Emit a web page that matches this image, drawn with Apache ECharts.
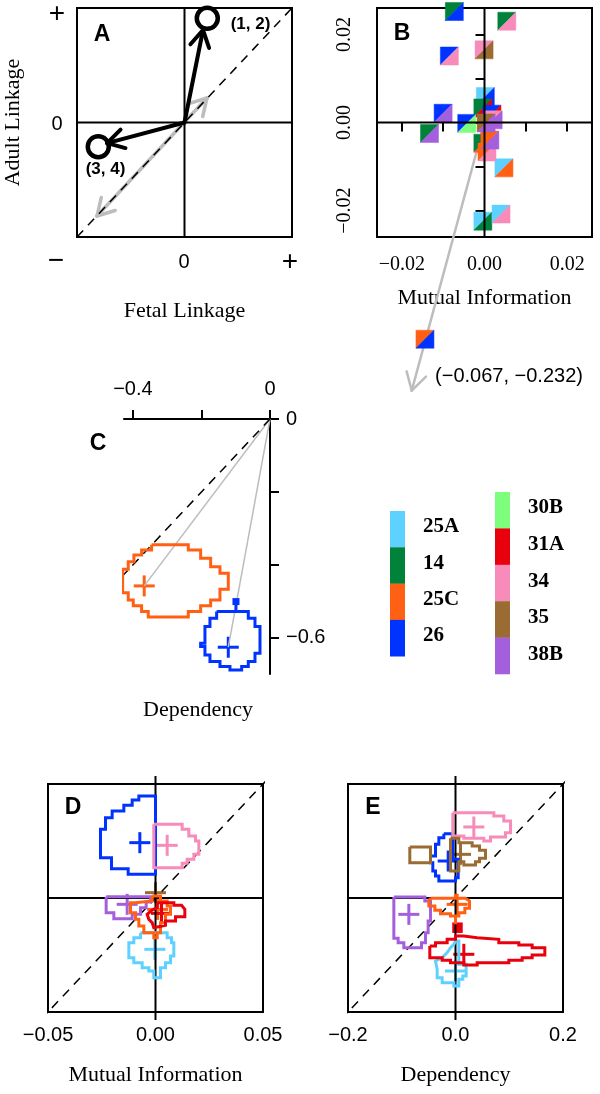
<!DOCTYPE html>
<html><head><meta charset="utf-8">
<script src="https://cdn.jsdelivr.net/npm/echarts@6/dist/echarts.min.js"></script>
<style>html,body{margin:0;padding:0;background:#fff}#c{width:600px;height:1094px}</style>
</head><body><div id="c"></div>
<script>
// ---------- shared categories ----------
const categories = ['25A','14','25C','26','30B','31A','34','35','38B'];
const catColors  = ['#5ED1FF','#00823A','#FF6014','#0033FF','#7DFF7D','#E8000C','#F78BBA','#9A6B32','#A45FDC'];

// ---------- Panel A (schematic) ----------
const aBlackArrows = [[0,0,0.172,0.808],[0,0,-0.72,-0.18]];
const aGrayArrow   = [[-0.814,-0.817,0.209,0.214]];
const aCircleX = [0.212,-0.802];
const aCircleY = [0.910,-0.211];
const aCircleLabels = ['(1, 2)','(3, 4)'];

// ---------- Panel B (split squares: upper-left / lower-right category) ----------
const bX = [-0.0073,0.0054,-0.0085,-0.0001,0.0002,-0.0100,-0.0133,0.0047,-0.0004,0.0040,-0.0004,0.0018,0.0021,-0.0043,-0.0004,0.0006,0.0013,0.0004];
const bY = [0.0252,0.0230,0.0151,0.0165,0.0059,0.0021,-0.0025,-0.0103,-0.0224,-0.0208,0.0033,0.0019,0.0006,-0.0002,-0.0047,-0.0067,-0.0040,-0.0001];
const bUpper = ['14','14','26','34','25A','26','14','25A','25A','25A','14','26','34','26','14','25C','25C','35'];
const bLower = ['26','34','34','35','26','38B','38B','25C','14','34','31A','31A','38B','30B','25C','34','38B','38B'];
const bOutlierValue = [-0.067,-0.232];
const bOutlierShown = [-0.0144,-0.0492];
const bOutlierArrowEnd = [-0.0176,-0.0609];
const bOutlierCats = ['25C','26'];
const bTicks = [-0.02,-0.01,0,0.01,0.02];
const bTickLabels = [-0.02,0,0.02];

// ---------- Panel C ----------
const cOrange = [[-0.3455,-0.345],[-0.2384,-0.345],[-0.2384,-0.359],[-0.2024,-0.359],[-0.2024,-0.382],[-0.1732,-0.382],[-0.1732,-0.405],[-0.146,-0.405],[-0.146,-0.423],[-0.1217,-0.423],[-0.1217,-0.467],[-0.146,-0.467],[-0.146,-0.496],[-0.1732,-0.496],[-0.1732,-0.512],[-0.2024,-0.512],[-0.2024,-0.528],[-0.2384,-0.528],[-0.2384,-0.543],[-0.3552,-0.543],[-0.3552,-0.528],[-0.3747,-0.528],[-0.3747,-0.512],[-0.399,-0.512],[-0.399,-0.496],[-0.4136,-0.496],[-0.4136,-0.476],[-0.430,-0.476],[-0.430,-0.412],[-0.4136,-0.412],[-0.4136,-0.391],[-0.397,-0.391],[-0.397,-0.373],[-0.3747,-0.373],[-0.3747,-0.359],[-0.3455,-0.359]];
const cBlue = [[-0.1557,-0.528],[-0.0633,-0.528],[-0.0633,-0.546],[-0.0438,-0.546],[-0.0438,-0.569],[-0.0292,-0.569],[-0.0292,-0.642],[-0.0438,-0.642],[-0.0438,-0.665],[-0.0633,-0.665],[-0.0633,-0.6785],[-0.0827,-0.6785],[-0.0827,-0.688],[-0.1168,-0.688],[-0.1168,-0.6785],[-0.146,-0.6785],[-0.146,-0.665],[-0.1752,-0.665],[-0.1752,-0.6466],[-0.1898,-0.6466],[-0.1898,-0.6237],[-0.2024,-0.6237],[-0.2024,-0.6146],[-0.1898,-0.6146],[-0.1898,-0.569],[-0.1752,-0.569],[-0.1752,-0.546],[-0.1557,-0.546]];
const cBlueStem = [[-0.0993,-0.5005],[-0.0993,-0.528]];
const cCenters = [[-0.367,-0.4575],[-0.1217,-0.6256]];
const cCenterCats = ['25C','26'];
const cXTicks = [-0.4,-0.2,0], cXLabels = [-0.4,0];
const cYTicks = [-0.6,-0.4,-0.2,0], cYLabels = [-0.6,0];

// ---------- Panel D (Mutual Information) ----------
const dBlue = [[-0.00543,0.04474],[0,0.04474],[0,0.01038],[-0.01271,0.01038],[-0.01271,0.01287],[-0.02047,0.01287],[-0.02047,0.01769],[-0.02558,0.01769],[-0.02558,0.03012],[-0.02326,0.03012],[-0.02326,0.03523],[-0.02016,0.03523],[-0.02016,0.03816],[-0.01473,0.03816],[-0.01473,0.04064],[-0.01085,0.04064],[-0.01085,0.04298],[-0.00775,0.04298],[-0.00775,0.04474]];
const dPink = [[-0.00078,0.03231],[0.0124,0.03231],[0.0124,0.03012],[0.0155,0.03012],[0.0155,0.02719],[0.0186,0.02719],[0.0186,0.025],[0.02016,0.025],[0.02016,0.01915],[0.01783,0.01915],[0.01783,0.01696],[0.01473,0.01696],[0.01473,0.01521],[0.0124,0.01521],[0.0124,0.0133],[-0.00078,0.0133]];
const dCyan = [[-0.00698,-0.01521],[0.00543,-0.01521],[0.00543,-0.0174],[0.00744,-0.0174],[0.00744,-0.01959],[0.00853,-0.01959],[0.00853,-0.02544],[0.00698,-0.02544],[0.00698,-0.02836],[0.00465,-0.02836],[0.00465,-0.03056],[0.00233,-0.03056],[0.00233,-0.03494],[-0.00078,-0.03494],[-0.00078,-0.03202],[-0.0031,-0.03202],[-0.0031,-0.03056],[-0.0062,-0.03056],[-0.0062,-0.02836],[-0.01008,-0.02836],[-0.01008,-0.02617],[-0.0124,-0.02617],[-0.0124,-0.01959],[-0.01008,-0.01959],[-0.01008,-0.0174],[-0.00698,-0.0174]];
const dPurple = [[-0.02295,0.00058],[-0.00233,0.00058],[-0.00233,-0.00175],[-0.00434,-0.00175],[-0.00434,-0.00424],[-0.00698,-0.00424],[-0.00698,-0.00716],[-0.01085,-0.00716],[-0.01085,-0.00906],[-0.01938,-0.00906],[-0.01938,-0.00643],[-0.02295,-0.00643]];
const dOrange = [[-0.00155,0.00088],[0.00233,0.00088],[0.00233,-0.00132],[0.00543,-0.00132],[0.00543,-0.00351],[0.00698,-0.00351],[0.00698,-0.00716],[0.00465,-0.00716],[0.00465,-0.01082],[0.00233,-0.01082],[0.00233,-0.01521],[0.00078,-0.01521],[0.00078,-0.0174],[-0.00078,-0.0174],[-0.00078,-0.01521],[-0.00543,-0.01521],[-0.00543,-0.01228],[-0.00775,-0.01228],[-0.00775,-0.00936],[-0.0093,-0.00936],[-0.0093,-0.00643],[-0.01163,-0.00643],[-0.01163,-0.00205],[-0.0093,-0.00205],[-0.0093,-0.00132],[-0.00155,-0.00132]];
const dRed = [[0.00078,-0.00205],[0.00853,-0.00205],[0.00853,-0.00322],[0.01209,-0.00322],[0.01364,-0.00497],[0.01364,-0.00819],[0.0093,-0.00819],[0.0093,-0.01009],[0.00465,-0.01009],[0.00465,-0.01199],[-0.00078,-0.01301],[-0.00155,-0.01082],[-0.0031,-0.00936],[-0.00388,-0.00716],[-0.00155,-0.00526],[0.00078,-0.00424]];
const dCenterX = [-0.00729,0.00543,-0.0003,-0.01318,0.001,0.00279,0];
const dCenterY = [0.02427,0.0231,-0.02251,-0.00278,-0.005,-0.00673,0.00234];
const dCenterCats = ['26','34','25A','38B','25C','31A','35'];
const dTickLabels = [-0.05,0,0.05];

// ---------- Panel E (Dependency) ----------
const eBlue = [[-0.0217,0.1129],[-0.005,0.1129],[-0.005,0.0678],[0.005,0.0678],[0.005,0.0357],[0,0.0357],[0,0.0298],[-0.031,0.0298],[-0.031,0.0386],[-0.0372,0.0386],[-0.0372,0.0474],[-0.0422,0.0474],[-0.0422,0.062],[-0.0465,0.062],[-0.0465,0.0737],[-0.0372,0.0737],[-0.0372,0.0942],[-0.031,0.0942],[-0.031,0.1058],[-0.0217,0.1058]];
const ePink = [[-0.005,0.1497],[0.0713,0.1497],[0.0713,0.1439],[0.0899,0.1439],[0.0899,0.1351],[0.1023,0.1351],[0.1023,0.1146],[0.093,0.1146],[0.093,0.107],[0.0651,0.107],[0.0651,0.1],[0.0527,0.1],[0.0527,0.1047],[0.0155,0.1047],[0.0155,0.1088],[-0.005,0.1088]];
const eBrown = [[-0.0093,0.1047],[0.0062,0.1047],[0.0062,0.0971],[0.031,0.0971],[0.031,0.0912],[0.0447,0.0912],[0.0447,0.0836],[0.0558,0.0836],[0.0558,0.0696],[0.0447,0.0696],[0.0447,0.0637],[0.0372,0.0637],[0.0372,0.0579],[0.0155,0.0579],[0.0155,0.0637],[0.0062,0.0637],[0.0062,0.0474],[-0.0093,0.0474]];
const eBrownIsland = [[-0.085,0.0895],[-0.0465,0.0895],[-0.0465,0.062],[-0.085,0.062]];
const ePurple = [[-0.1147,0.0018],[-0.0571,0.0018],[-0.0571,-0.0053],[-0.0465,-0.0053],[-0.0465,-0.0404],[-0.0509,-0.0404],[-0.0509,-0.0608],[-0.0558,-0.0608],[-0.0558,-0.0784],[-0.0633,-0.0784],[-0.0633,-0.0871],[-0.0961,-0.0871],[-0.0961,-0.0784],[-0.1067,-0.0784],[-0.1067,-0.0708],[-0.1147,-0.0708]];
const eCyan = [[0,-0.0754],[0.0062,-0.0754],[0.0062,-0.1164],[0.0198,-0.1164],[0.0198,-0.1368],[0.0136,-0.1368],[0.0136,-0.1427],[0.0062,-0.1427],[0.0062,-0.1544],[-0.0031,-0.1544],[-0.0031,-0.1485],[-0.0248,-0.1485],[-0.0248,-0.1398],[-0.0341,-0.1398],[-0.0341,-0.1251],[-0.0372,-0.1105],[-0.0248,-0.1047],[-0.0155,-0.0959],[-0.0093,-0.0871],[-0.0031,-0.0813]];
const eOrange = [[-0.0465,-0.0006],[0.0186,-0.0006],[0.026,-0.0053],[0.026,-0.0181],[0.0174,-0.0181],[0.0174,-0.0257],[0.0062,-0.0257],[0.0062,-0.0316],[-0.0093,-0.0316],[-0.0093,-0.0275],[-0.0279,-0.0275],[-0.0279,-0.0216],[-0.0384,-0.0216],[-0.0384,-0.014],[-0.0496,-0.014],[-0.0496,-0.0053]];
const eOrangeStems = [[[0,0.0076],[0,-0.0006]],[[0,-0.0316],[0,-0.0462]]];
const eRed = [[-0.0478,-0.0842],[-0.0372,-0.0842],[-0.0372,-0.0784],[-0.0155,-0.0784],[-0.0155,-0.0725],[0,-0.0725],[0,-0.0667],[0.0155,-0.0667],[0.0155,-0.0696],[0.0403,-0.0696],[0.0403,-0.0725],[0.0806,-0.0725],[0.0806,-0.0784],[0.1178,-0.0784],[0.1178,-0.0825],[0.1426,-0.0825],[0.1426,-0.0871],[0.1662,-0.0871],[0.1662,-0.1],[0.1426,-0.1],[0.1426,-0.1047],[0.124,-0.1047],[0.124,-0.1094],[0.0992,-0.1094],[0.0992,-0.1135],[0.0403,-0.1135],[0.0403,-0.1175],[0.0155,-0.1175],[0.0155,-0.1135],[-0.0093,-0.1135],[-0.0093,-0.1094],[-0.0248,-0.1094],[-0.0248,-0.1047],[-0.0478,-0.1047]];
const eRedIsland = [0.0037,-0.0521];
const eCenterX = [-0.0136,0.0341,0.0093,-0.0868,0,0.0031,0.0155];
const eCenterY = [0.0649,0.1246,0.0766,-0.0287,-0.1281,-0.0111,-0.0988];
const eCenterCats = ['26','34','35','38B','25A','25C','31A'];
const eTickLabels = [-0.2,0,0.2];

// ---------- helpers ----------
const SANS = '"Liberation Sans", Arial, sans-serif';
const SERIF = '"Liberation Serif", "Times New Roman", serif';
const col = c => catColors[categories.indexOf(c)];
const minus = s => s.replace(/-/g, '\u2212');
const closeRing = pts => pts.concat([pts[0]]);

function line(gi, pts, color, width, dash) {
  return {type:'line', xAxisIndex:gi, yAxisIndex:gi, data:pts, showSymbol:false, symbol:'none',
    clip:false, silent:true, animation:false,
    lineStyle:{color:color, width:width, type:dash || 'solid', cap:'butt', join:'miter', opacity:1}};
}
function contour(gi, pts, cat) { return line(gi, closeRing(pts), col(cat), 3); }
function plusSeries(gi, xs, ys, cats) {
  return {type:'custom', xAxisIndex:gi, yAxisIndex:gi, silent:true, animation:false,
    data: xs.map((x,i)=>[x, ys[i], categories.indexOf(cats[i])]),
    renderItem:(params, api)=>{
      const p = api.coord([api.value(0), api.value(1)]);
      const c = catColors[api.value(2)], s = 10.5;
      return {type:'group', children:[
        {type:'line', shape:{x1:p[0]-s,y1:p[1],x2:p[0]+s,y2:p[1]}, style:{stroke:c,lineWidth:3}},
        {type:'line', shape:{x1:p[0],y1:p[1]-s,x2:p[0],y2:p[1]+s}, style:{stroke:c,lineWidth:3}}]};
    }};
}
function arrowSeries(gi, arr, color, width, heads, len) {
  return {type:'custom', xAxisIndex:gi, yAxisIndex:gi, silent:true, animation:false, clip:false,
    data: arr.map(a=>a.concat(heads)),
    renderItem:(params, api)=>{
      const p1 = api.coord([api.value(0), api.value(1)]);
      const p2 = api.coord([api.value(2), api.value(3)]);
      const st = {stroke:color, lineWidth:width, lineCap:'round'};
      const ch = [{type:'line', shape:{x1:p1[0],y1:p1[1],x2:p2[0],y2:p2[1]}, style:st}];
      const head = (t, o) => {
        const a = Math.atan2(o[1]-t[1], o[0]-t[0]);
        [-Math.PI/6, Math.PI/6].forEach(d => ch.push({type:'line',
          shape:{x1:t[0],y1:t[1],x2:t[0]+len*Math.cos(a+d),y2:t[1]+len*Math.sin(a+d)}, style:st}));
      };
      if (api.value(4)) head(p1, p2);
      if (api.value(5)) head(p2, p1);
      return {type:'group', children:ch};
    }};
}
function squareSeries(gi, xs, ys, ups, lows) {
  return {type:'custom', xAxisIndex:gi, yAxisIndex:gi, silent:true, animation:false, clip:false,
    data: xs.map((x,i)=>[x, ys[i], categories.indexOf(ups[i]), categories.indexOf(lows[i])]),
    renderItem:(params, api)=>{
      const p = api.coord([api.value(0), api.value(1)]), s = 9;
      const L=p[0]-s, R=p[0]+s, T=p[1]-s, B=p[1]+s;
      return {type:'group', children:[
        {type:'polygon', shape:{points:[[L,T],[R,T],[L,B]]}, style:{fill:catColors[api.value(2)], stroke:catColors[api.value(2)], lineWidth:0.5}},
        {type:'polygon', shape:{points:[[R,T],[R,B],[L,B]]}, style:{fill:catColors[api.value(3)], stroke:catColors[api.value(3)], lineWidth:0.5}}]};
    }};
}

const hiddenAxis = (gi, min, max) => ({gridIndex:gi, type:'value', min, max,
  axisLine:{show:false}, axisTick:{show:false}, axisLabel:{show:false}, splitLine:{show:false}});
const nameStyle = {fontFamily:SERIF, fontSize:22, color:'#000'};
const tickStyle = {show:true, length:9, inside:false, lineStyle:{color:'#000', width:2}};

const grids = [
  {left:77, top:8, width:215, height:229, show:true, borderColor:'#000', borderWidth:2},
  {left:377, top:8, width:215, height:229, show:true, borderColor:'#000', borderWidth:2},
  {left:124, top:419, width:146, height:255, show:false},
  {left:48, top:784, width:215, height:228, show:true, borderColor:'#000', borderWidth:2},
  {left:348, top:784, width:215, height:228, show:true, borderColor:'#000', borderWidth:2}
];

const xAxes = [
  Object.assign(hiddenAxis(0,-1,1), {name:'Fetal Linkage', nameLocation:'middle', nameGap:63, nameTextStyle:nameStyle}),
  {gridIndex:1, type:'value', min:-0.026, max:0.026, splitLine:{show:false}, axisLine:{show:false},
   axisTick:Object.assign({customValues:bTicks}, tickStyle),
   axisLabel:{customValues:bTickLabels, formatter:v=>minus(v.toFixed(2)), fontFamily:SERIF, fontSize:20, color:'#000', margin:18},
   name:'Mutual Information', nameLocation:'middle', nameGap:50, nameTextStyle:nameStyle},
  {gridIndex:2, type:'value', position:'top', min:-0.426, max:0, splitLine:{show:false},
   axisLine:{show:true, onZero:false, lineStyle:{color:'#000', width:2}},
   axisTick:Object.assign({customValues:cXTicks}, tickStyle),
   axisLabel:{customValues:cXLabels, formatter:v=>v===0?'0':minus(v.toFixed(1)), fontFamily:SANS, fontSize:20, color:'#000', margin:20}},
  {gridIndex:3, type:'value', min:-0.05, max:0.05, splitLine:{show:false}, axisLine:{show:false}, axisTick:{show:false},
   axisLabel:{customValues:dTickLabels, formatter:v=>minus(v.toFixed(2)), fontFamily:SANS, fontSize:20, color:'#000', margin:13},
   name:'Mutual Information', nameLocation:'middle', nameGap:52, nameTextStyle:nameStyle},
  {gridIndex:4, type:'value', min:-0.2, max:0.2, splitLine:{show:false}, axisLine:{show:false}, axisTick:{show:false},
   axisLabel:{customValues:eTickLabels, formatter:v=>minus(v.toFixed(1)), fontFamily:SANS, fontSize:20, color:'#000', margin:13},
   name:'Dependency', nameLocation:'middle', nameGap:52, nameTextStyle:nameStyle}
];
const yAxes = [
  Object.assign(hiddenAxis(0,-1,1), {name:'Adult Linkage', nameLocation:'middle', nameGap:53, nameTextStyle:nameStyle}),
  {gridIndex:1, type:'value', min:-0.026, max:0.026, splitLine:{show:false}, axisLine:{show:false},
   axisTick:Object.assign({customValues:bTicks}, tickStyle),
   axisLabel:{customValues:bTickLabels, rotate:90, formatter:v=>minus(v.toFixed(2)), fontFamily:SERIF, fontSize:20, color:'#000', margin:22}},
  {gridIndex:2, type:'value', position:'right', min:-0.699, max:0, splitLine:{show:false},
   axisLine:{show:true, onZero:false, lineStyle:{color:'#000', width:2}},
   axisTick:Object.assign({customValues:cYTicks}, tickStyle),
   axisLabel:{customValues:cYLabels, formatter:v=>v===0?'0':minus(v.toFixed(1)), fontFamily:SANS, fontSize:20, color:'#000', margin:16}},
  hiddenAxis(3,-0.05,0.05),
  hiddenAxis(4,-0.2,0.2)
];

const series = [];
// Panel A
series.push(line(0, [[-1,0],[1,0]], '#000', 2));
series.push(line(0, [[0,-1],[0,1]], '#000', 2));
series.push(line(0, [[-1,-1],[1,1]], '#000', 1.5, [9,7]));
series.push(arrowSeries(0, aGrayArrow, '#BDBDBD', 3.5, [1,1], 19));
series.push(arrowSeries(0, aBlackArrows, '#000', 4, [0,1], 19));
const aLabelPos = [[56,19],[20,35]];
series.push({type:'scatter', xAxisIndex:0, yAxisIndex:0, symbol:'circle', symbolSize:21, silent:true, animation:false,
  itemStyle:{color:'rgba(0,0,0,0)', borderColor:'#000', borderWidth:4.5, opacity:1},
  data: aCircleX.map((x,i)=>({value:[x, aCircleY[i]],
    label:{show:true, formatter:aCircleLabels[i], position:aLabelPos[i], align:'center', verticalAlign:'middle',
      fontFamily:SANS, fontWeight:'bold', fontSize:17, color:'#000', opacity:1}}))});
// Panel B
series.push(line(1, [[-0.026,0],[0.026,0]], '#000', 2));
series.push(line(1, [[0,-0.026],[0,0.026]], '#000', 2));
series.push(arrowSeries(1, [[0,0,bOutlierArrowEnd[0],bOutlierArrowEnd[1]]], '#BDBDBD', 2.5, [0,1], 20));
series.push(squareSeries(1, bX, bY, bUpper, bLower));
series.push(squareSeries(1, [bOutlierShown[0]], [bOutlierShown[1]], [bOutlierCats[0]], [bOutlierCats[1]]));
// Panel C
cCenters.forEach(c => series.push(line(2, [[0,0], c], '#BDBDBD', 1.5)));
series.push(line(2, [[0,0],[-0.465,-0.465]], '#000', 1.5, [9,7]));
series.push(contour(2, cOrange, '25C'));
series.push(contour(2, cBlue, '26'));
series.push(Object.assign(line(2, cBlueStem, col('26'), 3), {showSymbol:true, symbol:'rect', symbolSize:[7,0],
  data:[{value:cBlueStem[0], symbolSize:7, itemStyle:{color:col('26'), opacity:1}}, {value:cBlueStem[1], symbolSize:0}]}));
series.push(plusSeries(2, cCenters.map(c=>c[0]), cCenters.map(c=>c[1]), cCenterCats));
// Panel D
series.push(line(3, [[-0.0535,0],[0.0535,0]], '#000', 2));
series.push(line(3, [[0,-0.0535],[0,0.0535]], '#000', 2));
series.push(line(3, [[-0.0533,-0.0533],[0.0533,0.0533]], '#000', 1.5, [9,7]));
series.push(contour(3, dBlue, '26'));
series.push(contour(3, dPink, '34'));
series.push(contour(3, dCyan, '25A'));
series.push(contour(3, dPurple, '38B'));
series.push(contour(3, dOrange, '25C'));
series.push(contour(3, dRed, '31A'));
series.push(plusSeries(3, dCenterX, dCenterY, dCenterCats));
// Panel E
series.push(line(4, [[-0.214,0],[0.214,0]], '#000', 2));
series.push(line(4, [[0,-0.214],[0,0.214]], '#000', 2));
series.push(line(4, [[-0.2133,-0.2133],[0.2133,0.2133]], '#000', 1.5, [9,7]));
series.push(contour(4, eBlue, '26'));
series.push(contour(4, ePink, '34'));
series.push(contour(4, eBrown, '35'));
series.push(contour(4, eBrownIsland, '35'));
series.push(contour(4, ePurple, '38B'));
series.push(contour(4, eCyan, '25A'));
series.push(contour(4, eOrange, '25C'));
eOrangeStems.forEach(s => series.push(line(4, s, col('25C'), 3)));
series.push(contour(4, eRed, '31A'));
series.push({type:'scatter', xAxisIndex:4, yAxisIndex:4, symbol:'rect', symbolSize:10.5, silent:true, animation:false,
  itemStyle:{color:col('31A'), opacity:1}, data:[eRedIsland]});
series.push(plusSeries(4, eCenterX, eCenterY, eCenterCats));

// ---------- graphics: panel letters, schematic labels, legend ----------
const txt = (text, x, y, font, align) => ({type:'text', x, y, silent:true,
  style:{text, font, fill:'#000', align:align||'center', verticalAlign:'middle'}});
const graphic = [
  txt('A',102,35,'bold 23px '+SANS), txt('B',402,34,'bold 23px '+SANS), txt('C',98,444,'bold 23px '+SANS),
  txt('D',73,808,'bold 23px '+SANS), txt('E',373,808,'bold 23px '+SANS),
  txt('+',57,14,'28px '+SANS), txt('0',57,124,'20px '+SANS), txt('\u2212',56,261,'28px '+SANS),
  txt('0',184,262,'20px '+SANS), txt('+',290,262,'28px '+SANS),
  txt(minus('('+bOutlierValue[0].toFixed(3)+', '+bOutlierValue[1].toFixed(3)+')'),509,376,'20px '+SANS),
  txt('Dependency',198,710,'22px '+SERIF)
];
const leftCats = categories.slice(0,4), rightCats = categories.slice(4);
leftCats.forEach((c,i)=>{
  graphic.push({type:'rect', silent:true, shape:{x:390, y:511+36.3*i, width:15, height:36.6}, style:{fill:col(c)}});
  graphic.push(txt(c, 423, 527+36.3*i, 'bold 21px '+SERIF, 'left'));
});
rightCats.forEach((c,i)=>{
  graphic.push({type:'rect', silent:true, shape:{x:495, y:492+36.4*i, width:15, height:36.7}, style:{fill:col(c)}});
  graphic.push(txt(c, 528, 508+36.6*i, 'bold 21px '+SERIF, 'left'));
});

const chart = echarts.init(document.getElementById('c'), null, {renderer:'canvas'});
chart.setOption({animation:false, backgroundColor:'#fff', grid:grids, xAxis:xAxes, yAxis:yAxes, series, graphic});
</script></body></html>
